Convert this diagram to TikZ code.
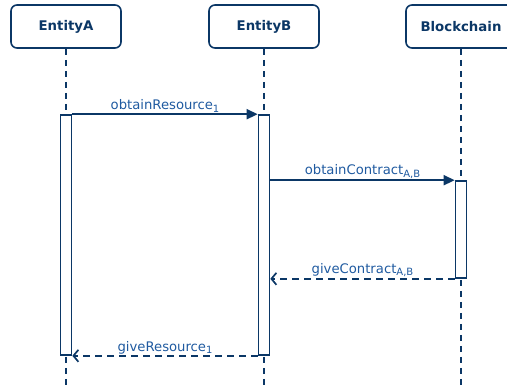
\documentclass[tikz,border=0pt]{standalone}
\usepackage{fontspec}
\setmainfont{DejaVu Sans}
\usetikzlibrary{arrows.meta}
\definecolor{navy}{HTML}{0B3766}
\definecolor{msgblue}{HTML}{1F5AA0}
\newcommand{\lowidx}[1]{\raisebox{-0.35ex}{\fontsize{10}{11}\selectfont #1}}
\tikzset{
  actor/.style={draw=navy, line width=1.6pt, rounded corners=6pt, fill=white,
    minimum width=110pt, minimum height=43pt, text=navy, font=\bfseries\fontsize{13.3}{15}\selectfont},
  lifeline/.style={draw=navy, line width=1.6pt, dash pattern=on 6pt off 5pt},
  bar/.style={draw=navy, line width=1.6pt, fill=white, minimum width=11pt, inner sep=0pt},
  call/.style={draw=navy, line width=1.7pt, -{Triangle[length=11pt,width=10pt]}},
  reply/.style={draw=navy, line width=1.7pt, dash pattern=on 7pt off 5pt, -{Straight Barb[length=5pt,width=12pt]}},
  msg/.style={text=msgblue, font=\fontsize{13.2}{15}\selectfont, inner sep=1pt}
}
\begin{document}
\begin{tikzpicture}[x=1pt,y=-1pt]
    \useasboundingbox (0,0) rectangle (507,387);
    % First, locate the actors and the bottom of the lifelines
    \node[actor] (entA) at (66,26.5) {EntityA};
    \node[actor] (entB) at (264,26.5) {EntityB};
    \node[actor] (chain) at (461,26.5) {Blockchain};
    \coordinate (bottom) at (0,390);
    % Lifelines
    \draw[lifeline] (entA.south) -- (entA.south |- bottom);
    \draw[lifeline] (entB.south) -- (entB.south |- bottom);
    \draw[lifeline] (chain.south) -- (chain.south |- bottom);
    % Activation bars
    \node[bar, minimum height=240pt] (barA) at (66,235) {};
    \node[bar, minimum height=240pt] (barB) at (264,235) {};
    \node[bar, minimum height=97pt] (barC) at (461,229.5) {};
    % Now draw the messages
    \draw[call] (barA.north east) -- node[msg, above] {obtainResource\lowidx{1}} (barB.north west);
    \draw[call] (barB.east |- barC.north west) -- node[msg, above] {obtainContract\lowidx{A,B}} (barC.north west);
    \draw[reply] (barC.south west) -- node[msg, above] {giveContract\lowidx{A,B}} (barB.east |- barC.south west);
    \draw[reply] (barB.south west) -- node[msg, above] {giveResource\lowidx{1}} (barA.south east);
\end{tikzpicture}
\end{document}
